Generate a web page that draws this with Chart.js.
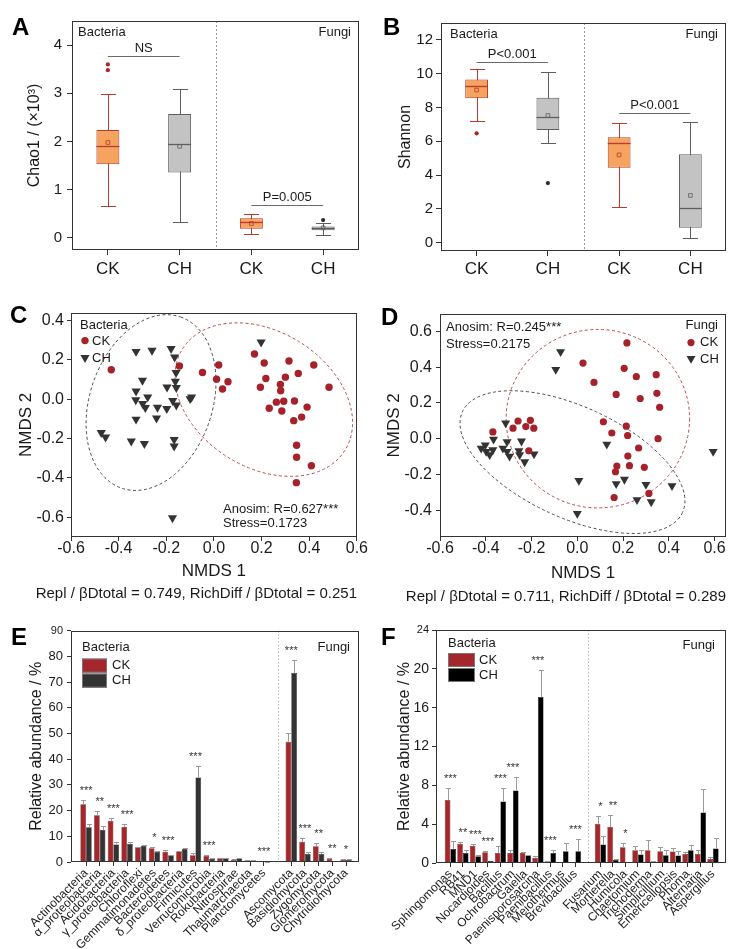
<!DOCTYPE html>
<html><head><meta charset="utf-8">
<script src="https://cdn.jsdelivr.net/npm/chart.js@4.4.1/dist/chart.umd.min.js"></script>
<style>
html,body{margin:0;padding:0;background:#fff}
body{width:738px;height:949px;position:relative;overflow:hidden}
.pn{position:absolute}
.pn canvas{display:block}
.lt{position:absolute;font:bold 24px 'Liberation Sans',Arial,sans-serif;line-height:1;color:#000}
</style></head><body>
<div class="pn" style="left:0;top:0;width:368px;height:300px"><canvas id="cA"></canvas></div>
<div class="pn" style="left:368px;top:0;width:370px;height:300px"><canvas id="cB"></canvas></div>
<div class="pn" style="left:0;top:300px;width:368px;height:340px"><canvas id="cC"></canvas></div>
<div class="pn" style="left:368px;top:300px;width:370px;height:340px"><canvas id="cD"></canvas></div>
<div class="pn" style="left:0;top:620px;width:368px;height:329px"><canvas id="cE"></canvas></div>
<div class="pn" style="left:368px;top:620px;width:370px;height:329px"><canvas id="cF"></canvas></div>
<div class="lt" style="left:12px;top:15px">A</div>
<div class="lt" style="left:383px;top:15px">B</div>
<div class="lt" style="left:10px;top:303px">C</div>
<div class="lt" style="left:381px;top:305px">D</div>
<div class="lt" style="left:11px;top:625px">E</div>
<div class="lt" style="left:381px;top:625px">F</div>
<script>
// ---------------- DATA ----------------
const boxLabels = ['CK', 'CH', 'CK', 'CH'];

// Panel A : Chao1 (x10^3)
const aLow  = [0.67, 0.34, 0.08, 0.06];
const aQ1   = [1.53, 1.36, 0.19, 0.16];
const aMed  = [1.91, 1.94, 0.34, 0.20];
const aQ3   = [2.24, 2.57, 0.41, 0.24];
const aHigh = [2.99, 3.08, 0.50, 0.32];
const aMean = [1.98, 1.90, 0.30, 0.21];
const aOut  = [[3.48, 3.60], [], [], [0.37]];
const aTicks = [0, 1, 2, 3, 4];
const aBrackets = [{from: 0, to: 1, y: 3.77, text: 'NS'}, {from: 2, to: 3, y: 0.68, text: 'P=0.005'}];

// Panel B : Shannon
const bLow  = [7.18, 5.88, 2.08, 0.28];
const bQ1   = [8.54, 6.67, 4.43, 0.87];
const bMed  = [9.25, 7.42, 5.90, 2.07];
const bQ3   = [9.66, 8.58, 6.24, 5.23];
const bHigh = [10.29, 10.07, 7.08, 7.15];
const bMean = [9.03, 7.52, 5.19, 2.79];
const bOut  = [[6.47], [3.52], [], []];
const bTicks = [0, 2, 4, 6, 8, 10, 12];
const bBrackets = [{from: 0, to: 1, y: 10.72, text: 'P<0.001'}, {from: 2, to: 3, y: 7.69, text: 'P<0.001'}];

// Panel C : NMDS bacteria  [NMDS1, NMDS2]
const cCK = [[-0.431,0.150],[-0.145,0.169],[-0.048,0.136],[0.020,0.174],[0.011,0.102],[0.036,0.052],[0.059,0.089],[0.170,0.230],[0.211,0.184],[0.218,0.105],[0.195,0.061],[0.279,0.075],[0.280,0.043],[0.315,0.194],[0.300,0.112],[0.354,0.131],[0.419,0.174],[0.483,0.061],[0.262,-0.015],[0.293,-0.010],[0.232,-0.046],[0.285,-0.060],[0.338,-0.009],[0.391,-0.040],[0.368,-0.091],[0.335,-0.109],[0.347,-0.234],[0.347,-0.295],[0.409,-0.338],[0.346,-0.424]];
const cCH = [[-0.327,0.242],[-0.260,0.248],[-0.180,0.257],[-0.165,0.214],[0.198,0.290],[-0.300,0.095],[-0.159,0.135],[-0.162,0.090],[-0.197,0.061],[-0.158,0.059],[-0.327,0.041],[-0.278,0.011],[-0.328,-0.004],[-0.299,-0.023],[-0.288,-0.043],[-0.237,-0.042],[-0.198,-0.048],[-0.173,-0.007],[-0.158,-0.030],[-0.100,0.002],[-0.094,0.010],[-0.327,-0.102],[-0.241,-0.096],[-0.473,-0.170],[-0.455,-0.193],[-0.347,-0.213],[-0.292,-0.226],[-0.167,-0.205],[-0.167,-0.239],[-0.174,-0.603]];
// ellipses: [centre NMDS1, centre NMDS2, semi-axis 1, semi-axis 2 (NMDS1 units), tilt deg]
const cEllCK = [0.209, -0.002, 0.402, 0.285, 32];
const cEllCH = [-0.264, -0.017, 0.380, 0.257, -71];
const cXTicks = [-0.6, -0.4, -0.2, 0, 0.2, 0.4, 0.6];
const cYTicks = [-0.6, -0.4, -0.2, 0, 0.2, 0.4];
const cStats = ['Anosim: R=0.627***', 'Stress=0.1723'];
const cRepl = 'Repl / βDtotal = 0.749, RichDiff / βDtotal = 0.251';

// Panel D : NMDS fungi
const dCK = [[0.217,0.536],[0.025,0.423],[0.073,0.315],[0.205,0.394],[0.258,0.347],[0.345,0.358],[0.170,0.248],[0.275,0.225],[0.348,0.254],[0.360,0.176],[-0.369,0.038],[-0.281,0.059],[-0.259,0.099],[-0.225,0.068],[-0.205,0.103],[-0.190,0.059],[-0.212,-0.068],[0.114,0.095],[0.151,0.032],[0.214,0.070],[0.220,0.018],[0.353,0.000],[0.268,-0.052],[0.221,-0.097],[0.293,-0.160],[0.228,-0.151],[0.173,-0.153],[0.167,-0.185],[0.313,-0.306],[0.161,-0.329]];
const dCH = [[-0.073,0.486],[-0.094,0.387],[-0.313,0.088],[-0.366,-0.004],[-0.402,-0.036],[-0.420,-0.054],[-0.398,-0.072],[-0.383,-0.090],[-0.369,-0.063],[-0.325,-0.054],[-0.307,-0.018],[-0.296,-0.099],[-0.252,-0.090],[-0.244,-0.014],[-0.255,-0.068],[-0.230,-0.130],[-0.189,-0.086],[-0.307,-0.072],[0.129,-0.032],[0.007,-0.234],[0.000,-0.419],[0.170,-0.252],[0.206,-0.228],[0.300,-0.257],[0.414,-0.264],[0.261,-0.342],[0.323,-0.354],[0.594,-0.072]];
const dEllCK = [0.090, 0.112, 0.401, 0.390, 0];
const dEllCH = [-0.021, -0.131, 0.529, 0.243, 24.6];
const dXTicks = [-0.6, -0.4, -0.2, 0, 0.2, 0.4, 0.6];
const dYTicks = [-0.4, -0.2, 0, 0.2, 0.4, 0.6];
const dStats = ['Anosim: R=0.245***', 'Stress=0.2175'];
const dRepl = 'Repl / βDtotal = 0.711, RichDiff / βDtotal = 0.289';

// Panel E : phyla relative abundance (%)
const eBac = ['Actinobacteria','α_proteobacteria','Acidobacteria','γ_proteobacteria','Chloroflexi','Gemmatimonadetes','Bacteroidetes','δ_proteobacteria','Firmicutes','Verrucomicrobia','Rokubacteria','Nitrospirae','Thaumarchaeota','Planctomycetes'];
const eFun = ['Ascomycota','Basidiomycota','Zygomycota','Glomeromycota','Chytridiomycota'];
const eCK    = [22.5, 18.2, 16.0, 13.7, 5.7, 5.3, 4.0, 4.1, 2.6, 2.3, 1.5, 0.9, 0.6, 0.4, 46.8, 7.9, 6.1, 1.3, 0.9];
const eCKErr = [1.5, 1.7, 1.0, 1.0, 0.2, 0.4, 0.5, 0.3, 0.9, 0.3, 0.2, 0.1, 0.1, 0.05, 3.2, 1.4, 1.1, 0.2, 0.1];
const eCH    = [13.5, 12.5, 6.8, 7.1, 6.3, 4.0, 2.6, 5.2, 32.9, 1.3, 1.5, 1.5, 0.6, 0.1, 73.5, 3.1, 3.1, 0.4, 0.9];
const eCHErr = [1.2, 1.6, 1.1, 0.8, 0.5, 0.3, 0.2, 0.3, 4.3, 0.1, 0.2, 0.2, 0.1, 0.05, 5.2, 0.6, 0.9, 0.1, 0.1];
const eStars = ['***','**','***','***','','*','***','','***','***','','','','***','***','***','**','**','*'];
const eYTicks = [0, 10, 20, 30, 40, 50, 60, 70, 80, 90];

// Panel F : genera relative abundance (%)
const fBac = ['Sphingomonas','RB41','MND1','Nocardioides','Bacillus','Ochrobactrum','Gaiella','Paenisporosarcina','Paenibacillus','Meiothermus','Brevibacillus'];
const fFun = ['Fusarium','Mortierella','Humicola','Chaetomium','Trichoderma','Simplicillium','Emericellopsis','Phoma','Alternaria','Aspergillus'];
const fCK    = [6.5, 1.97, 1.76, 1.1, 1.04, 1.04, 1.04, 0.55, 0.17, 0, 0, 4.05, 3.7, 1.63, 1.31, 1.31, 1.21, 1.18, 0.93, 0.93, 0.42];
const fCKErr = [1.2, 0.21, 0.21, 0.18, 0.72, 0.34, 0.1, 0.18, 0, 0, 0, 0.76, 1.21, 0.45, 0.49, 1.04, 0.42, 0.38, 0.21, 0.45, 0.17];
const fCH    = [1.45, 1.04, 0.69, 0.2, 6.33, 7.47, 0.76, 17.1, 1.04, 1.21, 1.21, 1.9, 0.31, 0.03, 0.87, 0.14, 0.8, 0.76, 1.31, 5.19, 1.49];
const fCHErr = [0.8, 0.34, 0.14, 0, 1.39, 1.35, 0.07, 2.83, 0.27, 0.9, 1.25, 0.87, 0.07, 0, 0.44, 0.1, 0.51, 0.45, 0.52, 2.42, 1.04];
const fStars = ['***','**','***','***','***','***','','***','***','','***','*','**','*','','','','','','',''];
const fYTicks = [0, 4, 8, 12, 16, 20, 24];

// ---------------- STYLE ----------------
const FONT = "'Liberation Sans', Arial, Helvetica, sans-serif";
const AX = '#333333';
const TXT = '#1a1a1a';
const boxFill = ['#F5A35E', '#C3C3C3', '#F5A35E', '#C3C3C3'];
const boxLine = ['#B93A2F', '#5E5E5E', '#B93A2F', '#5E5E5E'];
const outCol  = ['#B22222', '#2E2E2E', '#B22222', '#2E2E2E'];
const CK_PT = '#A6222A';
const CH_PT = '#333333';

Chart.defaults.font.family = FONT;
Chart.defaults.color = TXT;
Chart.defaults.animation = false;
Chart.defaults.events = [];
Chart.defaults.maintainAspectRatio = false;
Chart.defaults.plugins.legend.display = false;
Chart.defaults.plugins.tooltip.enabled = false;

function txt(ctx, s, x, y, o) {
  o = o || {};
  ctx.save();
  ctx.font = (o.weight || '') + ' ' + (o.size || 13) + 'px ' + FONT;
  ctx.fillStyle = o.color || TXT;
  ctx.textAlign = o.align || 'left';
  ctx.textBaseline = o.base || 'middle';
  ctx.fillText(s, x, y);
  ctx.restore();
}
function frame(chart) {
  const {ctx, chartArea: a} = chart;
  const l = Math.round(a.left) + 0.5, t = Math.round(a.top) + 0.5;
  const r = Math.round(a.right) - 0.5, b = Math.round(a.bottom) - 0.5;
  ctx.save(); ctx.strokeStyle = AX; ctx.lineWidth = 1; ctx.setLineDash([]);
  ctx.strokeRect(l, t, r - l, b - t); ctx.restore();
}
function vDivider(chart, xv, color, dash) {
  const {ctx, chartArea: a, scales: {x}} = chart;
  const px = Math.round(x.getPixelForValue(xv)) + 0.5;
  ctx.save(); ctx.strokeStyle = color; ctx.lineWidth = 1; ctx.setLineDash(dash);
  ctx.beginPath(); ctx.moveTo(px, a.top); ctx.lineTo(px, a.bottom); ctx.stroke(); ctx.restore();
}
function yAxis(o) {
  return {
    type: 'linear', position: 'left', min: o.min, max: o.max,
    afterBuildTicks: s => { s.ticks = o.ticks.map(v => ({value: v})); },
    afterFit: s => { s.width = o.width; },
    grid: {drawOnChartArea: false, drawTicks: true, tickLength: o.tl, color: AX},
    border: {display: false},
    ticks: {autoSkip: false, padding: o.pad, color: TXT, callback: o.fmt || (v => String(v)), font: o.font},
    title: {display: true, text: o.title, color: TXT, font: {size: o.tsize || 16}, padding: {top: o.tpad, bottom: 0}}
  };
}
function xAxis(o) {
  return {
    type: 'linear', position: 'bottom', min: o.min, max: o.max, offset: false,
    afterBuildTicks: s => { s.ticks = o.ticks.map(v => ({value: v})); },
    afterFit: s => { s.height = o.height; },
    grid: {drawOnChartArea: false, drawTicks: true, tickLength: o.tl, color: AX, offset: false},
    border: {display: false},
    ticks: {autoSkip: false, padding: o.pad, color: TXT, callback: o.fmt, font: o.font,
            minRotation: o.rot || 0, maxRotation: o.rot || 0},
    title: o.title ? {display: true, text: o.title, color: TXT, font: {size: 17}, padding: {top: 0, bottom: o.tpb}} : {display: false}
  };
}

// ---------------- BOX PLOTS (A, B) ----------------
function makeBox(id, d, o) {
  const xs = boxLabels.map((_, i) => i + 1);
  const outPts = [];
  d.out.forEach((arr, i) => arr.forEach(v => outPts.push({x: xs[i], y: v, c: i})));
  const plug = {
    id: 'box' + id,
    beforeDatasetsDraw(chart) {
      const {ctx, scales: {x, y}} = chart;
      vDivider(chart, 2.5, '#9a9a9a', [2, 2]);
      const bars = chart.getDatasetMeta(2).data;
      ctx.save(); ctx.lineWidth = 1;
      xs.forEach((xv, i) => {
        const px = Math.round(x.getPixelForValue(xv)) + 0.5;
        const hw = bars[i].width * 0.33;
        const yl = Math.round(y.getPixelForValue(d.low[i])) + 0.5;
        const yh = Math.round(y.getPixelForValue(d.high[i])) + 0.5;
        ctx.strokeStyle = boxLine[i];
        ctx.beginPath();
        ctx.moveTo(px, yl); ctx.lineTo(px, yh);
        ctx.moveTo(px - hw, yl); ctx.lineTo(px + hw, yl);
        ctx.moveTo(px - hw, yh); ctx.lineTo(px + hw, yh);
        ctx.stroke();
      });
      ctx.restore();
    },
    afterDatasetsDraw(chart) {
      const {ctx, chartArea: a, scales: {x, y}} = chart;
      const bars = chart.getDatasetMeta(2).data;
      ctx.save(); ctx.lineWidth = 1.3;
      xs.forEach((xv, i) => {
        const px = x.getPixelForValue(xv), hw = bars[i].width / 2;
        const ym = Math.round(y.getPixelForValue(d.med[i])) + 0.5;
        ctx.strokeStyle = boxLine[i];
        ctx.beginPath(); ctx.moveTo(px - hw, ym); ctx.lineTo(px + hw, ym); ctx.stroke();
      });
      ctx.lineWidth = 1; ctx.strokeStyle = '#6b6b6b';
      d.brackets.forEach(b => {
        const x1 = x.getPixelForValue(xs[b.from]), x2 = x.getPixelForValue(xs[b.to]);
        const yy = Math.round(y.getPixelForValue(b.y)) + 0.5;
        ctx.beginPath(); ctx.moveTo(x1, yy); ctx.lineTo(x2, yy); ctx.stroke();
        txt(ctx, b.text, (x1 + x2) / 2, yy - 5, {size: 13, align: 'center', base: 'alphabetic'});
      });
      ctx.restore();
      txt(ctx, 'Bacteria', a.left + o.bx, a.top + 11, {size: 13});
      txt(ctx, 'Fungi', a.right - 8, a.top + 11, {size: 13, align: 'right'});
    },
    afterDraw: frame
  };
  return new Chart(document.getElementById(id), {
    type: 'bar',
    data: {datasets: [
      {type: 'scatter', data: xs.map((xv, i) => ({x: xv, y: d.mean[i]})), pointStyle: 'rect', pointRadius: 2.6,
       pointBorderWidth: 0.8, pointBackgroundColor: 'rgba(0,0,0,0)', pointBorderColor: c => boxLine[c.dataIndex], order: 0},
      {type: 'scatter', data: outPts, pointStyle: 'circle', pointRadius: 2.1, pointBorderWidth: 0,
       pointBackgroundColor: c => outCol[c.raw.c], order: 0},
      {type: 'bar', data: xs.map((xv, i) => ({x: xv, y: [d.q1[i], d.q3[i]]})), backgroundColor: boxFill,
       borderColor: boxLine, borderWidth: 1, borderSkipped: false, barPercentage: 1, categoryPercentage: 0.32, order: 2}
    ]},
    options: {
      layout: {padding: o.padding, autoPadding: false},
      scales: {
        x: xAxis({min: 0.5, max: 4.5, ticks: xs, height: o.xh, tl: 5, pad: o.xpad,
                  fmt: (v, i) => boxLabels[i], font: {size: 17}}),
        y: yAxis({min: o.ymin, max: o.ymax, ticks: d.ticks, width: o.yw, tl: 5, pad: o.ypad,
                  font: {size: 15}, title: o.title, tpad: o.tpad})
      }
    },
    plugins: [plug]
  });
}

makeBox('cA', {low: aLow, q1: aQ1, med: aMed, q3: aQ3, high: aHigh, mean: aMean, out: aOut, ticks: aTicks, brackets: aBrackets},
  {padding: {left: 0, top: 21, right: 9, bottom: 0}, xh: 50, yw: 72, ymin: -0.25, ymax: 4.5, xpad: 4, ypad: 5,
   title: 'Chao1 / (×10³)', tpad: 25, bx: 6});
makeBox('cB', {low: bLow, q1: bQ1, med: bMed, q3: bQ3, high: bHigh, mean: bMean, out: bOut, ticks: bTicks, brackets: bBrackets},
  {padding: {left: 0, top: 23, right: 12, bottom: 0}, xh: 49, yw: 73, ymin: -0.5, ymax: 13, xpad: 3, ypad: 3,
   title: 'Shannon', tpad: 28, bx: 9});

// ---------------- NMDS (C, D) ----------------
const fmt1 = v => (Math.abs(v) < 1e-9 ? 0 : v).toFixed(1);
function drawTri(ctx, x, y, r, color) {
  ctx.beginPath();
  for (let k = 0; k < 3; k++) {
    const ang = Math.PI + k * 2 * Math.PI / 3;
    const px = x + Math.sin(ang) * r, py = y - Math.cos(ang) * r;
    if (k === 0) ctx.moveTo(px, py); else ctx.lineTo(px, py);
  }
  ctx.closePath(); ctx.fillStyle = color; ctx.fill();
}
function makeNmds(id, ck, ch, ells, o) {
  const plug = {
    id: 'nm' + id,
    beforeDatasetsDraw(chart) {
      const {ctx, scales: {x, y}} = chart;
      const ppu = Math.abs(x.getPixelForValue(1) - x.getPixelForValue(0));
      ells.forEach(e => {
        const p = e.p;
        ctx.save(); ctx.strokeStyle = e.color; ctx.lineWidth = 1; ctx.setLineDash([3, 2.5]);
        ctx.beginPath();
        ctx.ellipse(x.getPixelForValue(p[0]), y.getPixelForValue(p[1]), p[2] * ppu, p[3] * ppu, p[4] * Math.PI / 180, 0, 2 * Math.PI);
        ctx.stroke(); ctx.restore();
      });
    },
    afterDatasetsDraw(chart) {
      const {ctx, chartArea: a} = chart;
      o.legend(ctx, a);
      o.stats(ctx, a);
    },
    afterDraw: frame
  };
  return new Chart(document.getElementById(id), {
    type: 'scatter',
    data: {datasets: [
      {data: ck.map(p => ({x: p[0], y: p[1]})), pointStyle: 'circle', pointRadius: o.rc, pointBorderWidth: 0, pointBackgroundColor: CK_PT},
      {data: ch.map(p => ({x: p[0], y: p[1]})), pointStyle: 'triangle', pointRotation: 180, pointRadius: o.rt, pointBorderWidth: 0, pointBackgroundColor: CH_PT}
    ]},
    options: {
      layout: {padding: o.padding, autoPadding: false},
      plugins: {title: {display: true, text: o.repl, position: 'bottom', align: 'end', color: TXT,
                        font: {size: 15, weight: 'normal'}, padding: {top: 0, bottom: 0}}},
      scales: {
        x: xAxis({min: o.xmin, max: o.xmax, ticks: o.xt, height: o.xh, tl: 4, pad: 0, fmt: fmt1,
                  font: {size: 16, lineHeight: 1}, title: 'NMDS 1', tpb: o.tpb}),
        y: yAxis({min: o.ymin, max: o.ymax, ticks: o.yt, width: o.yw, tl: 4, pad: o.ypad, fmt: fmt1,
                  font: {size: 16}, title: 'NMDS 2', tsize: 17, tpad: 16})
      }
    },
    plugins: [plug]
  });
}

makeNmds('cC', cCK, cCH, [{p: cEllCH, color: '#4a4a4a'}, {p: cEllCK, color: '#C0454A'}], {
  padding: {left: 0, top: 7, right: 11, bottom: 37}, xh: 48, yw: 71, ypad: 3, tpb: 3,
  xmin: -0.6, xmax: 0.6, ymin: -0.7, ymax: 0.44, xt: cXTicks, yt: cYTicks, rc: 3.7, rt: 5.3, repl: cRepl,
  legend(ctx, a) {
    txt(ctx, 'Bacteria', a.left + 9, a.top + 13, {size: 13});
    ctx.save(); ctx.fillStyle = CK_PT; ctx.beginPath(); ctx.arc(a.left + 14, a.top + 28, 3.7, 0, 2 * Math.PI); ctx.fill();
    drawTri(ctx, a.left + 14, a.top + 45, 5.3, CH_PT); ctx.restore();
    txt(ctx, 'CK', a.left + 21, a.top + 29, {size: 13});
    txt(ctx, 'CH', a.left + 21, a.top + 46, {size: 13});
  },
  stats(ctx, a) {
    txt(ctx, cStats[0], a.left + 152, a.bottom - 28, {size: 13});
    txt(ctx, cStats[1], a.left + 152, a.bottom - 14, {size: 13});
  }
});
makeNmds('cD', dCK, dCH, [{p: dEllCH, color: '#4a4a4a'}, {p: dEllCK, color: '#C0454A'}], {
  padding: {left: 0, top: 7, right: 12, bottom: 34}, xh: 51, yw: 72, ypad: 4, tpb: 4,
  xmin: -0.6, xmax: 0.65, ymin: -0.55, ymax: 0.7, xt: dXTicks, yt: dYTicks, rc: 3.6, rt: 5.2, repl: dRepl,
  legend(ctx, a) {
    txt(ctx, 'Fungi', a.right - 8, a.top + 12, {size: 13, align: 'right'});
    ctx.save(); ctx.fillStyle = CK_PT; ctx.beginPath(); ctx.arc(a.right - 35, a.top + 29, 3.6, 0, 2 * Math.PI); ctx.fill();
    drawTri(ctx, a.right - 35, a.top + 45, 5.2, CH_PT); ctx.restore();
    txt(ctx, 'CK', a.right - 26, a.top + 29, {size: 13});
    txt(ctx, 'CH', a.right - 26, a.top + 46, {size: 13});
  },
  stats(ctx, a) {
    txt(ctx, dStats[0], a.left + 6, a.top + 14, {size: 13});
    txt(ctx, dStats[1], a.left + 6, a.top + 31, {size: 13});
  }
});

// ---------------- BAR CHARTS (E, F) ----------------
function makeAbund(id, bac, fun, ck, ckE, ch, chE, stars, yt, o) {
  const labels = bac.concat(fun);
  const pos = bac.map((_, i) => i).concat(fun.map((_, j) => bac.length + 1 + j));
  const gap = bac.length;
  const vals = [ck, ch], errs = [ckE, chE];
  const plug = {
    id: 'ab' + id,
    beforeDatasetsDraw(chart) { vDivider(chart, gap, '#b5b5b5', [1.5, 2]); },
    afterDatasetsDraw(chart) {
      const {ctx, chartArea: a, scales: {x, y}} = chart;
      ctx.save(); ctx.strokeStyle = '#9a9a9a'; ctx.lineWidth = 1;
      [0, 1].forEach(di => {
        chart.getDatasetMeta(di).data.forEach((el, k) => {
          const e = errs[di][k]; if (!e) return;
          const px = Math.round(el.x) + 0.5;
          const y1 = Math.round(y.getPixelForValue(vals[di][k] + e)) + 0.5;
          ctx.beginPath(); ctx.moveTo(px, el.y); ctx.lineTo(px, y1);
          ctx.moveTo(px - 2.5, y1); ctx.lineTo(px + 2.5, y1); ctx.stroke();
        });
      });
      ctx.restore();
      stars.forEach((s, k) => {
        if (!s) return;
        const top = Math.max(ck[k] + ckE[k], ch[k] + chE[k]);
        txt(ctx, s, x.getPixelForValue(pos[k]), y.getPixelForValue(top) - 6, {size: 11, align: 'center', base: 'alphabetic', color: '#333'});
      });
      const L = o.leg;
      txt(ctx, 'Bacteria', a.left + L.bx, a.top + L.by, {size: 13});
      txt(ctx, 'Fungi', a.right - L.fx, a.top + L.fy, {size: 13, align: 'right'});
      ctx.save(); ctx.lineWidth = 1; ctx.strokeStyle = '#777';
      ctx.fillStyle = o.ckColor; ctx.fillRect(a.left + L.sx, a.top + L.s1, L.sw, L.sh);
      ctx.strokeRect(a.left + L.sx + 0.5, a.top + L.s1 + 0.5, L.sw - 1, L.sh - 1);
      ctx.fillStyle = o.chColor; ctx.fillRect(a.left + L.sx, a.top + L.s2, L.sw, L.sh);
      ctx.strokeRect(a.left + L.sx + 0.5, a.top + L.s2 + 0.5, L.sw - 1, L.sh - 1);
      ctx.restore();
      txt(ctx, 'CK', a.left + L.tx, a.top + L.s1 + L.sh / 2, {size: 13});
      txt(ctx, 'CH', a.left + L.tx, a.top + L.s2 + L.sh / 2, {size: 13});
    },
    afterDraw: frame
  };
  const last = yt.length - 1;
  return new Chart(document.getElementById(id), {
    type: 'bar',
    data: {datasets: [
      {label: 'CK', data: pos.map((p, k) => ({x: p, y: ck[k]})), backgroundColor: o.ckColor, borderColor: '#4a1212', borderWidth: 0.5,
       borderSkipped: 'bottom', barPercentage: 1, categoryPercentage: o.cat},
      {label: 'CH', data: pos.map((p, k) => ({x: p, y: ch[k]})), backgroundColor: o.chColor, borderColor: '#111', borderWidth: 0.5,
       borderSkipped: 'bottom', barPercentage: 1, categoryPercentage: o.cat}
    ]},
    options: {
      layout: {padding: o.padding, autoPadding: false},
      scales: {
        x: xAxis({min: o.xmin, max: o.xmax, ticks: pos, height: o.xh, tl: 4, pad: 0, rot: 45,
                  fmt: (v, i) => labels[i], font: {size: 12}}),
        y: yAxis({min: 0, max: yt[last], ticks: yt, width: o.yw, tl: 4, pad: o.ypad,
                  font: c => ({size: c.index === last ? 11 : o.tf}), title: 'Relative abundance / %', tpad: 27})
      }
    },
    plugins: [plug]
  });
}

makeAbund('cE', eBac, eFun, eCK, eCKErr, eCH, eCHErr, eStars, eYTicks, {
  padding: {left: 0, top: 10, right: 9, bottom: 0}, xh: 87, yw: 71, ypad: 4, tf: 13,
  xmin: -1.1, xmax: 19.95, cat: 0.83, ckColor: '#A3272B', chColor: '#333333',
  leg: {bx: 11, by: 17, fx: 9, fy: 17, sx: 11, s1: 28, s2: 43, sw: 25, sh: 14, tx: 41}
});
makeAbund('cF', fBac, fFun, fCK, fCKErr, fCH, fCHErr, fStars, fYTicks, {
  padding: {left: 0, top: 10, right: 12, bottom: 0}, xh: 86, yw: 68, ypad: 3, tf: 14,
  xmin: -1.15, xmax: 22.04, cat: 0.9, ckColor: '#A3272B', chColor: '#000000',
  leg: {bx: 12, by: 13, fx: 11, fy: 15, sx: 12, s1: 23, s2: 38, sw: 27, sh: 14, tx: 43}
});
</script>
</body></html>
